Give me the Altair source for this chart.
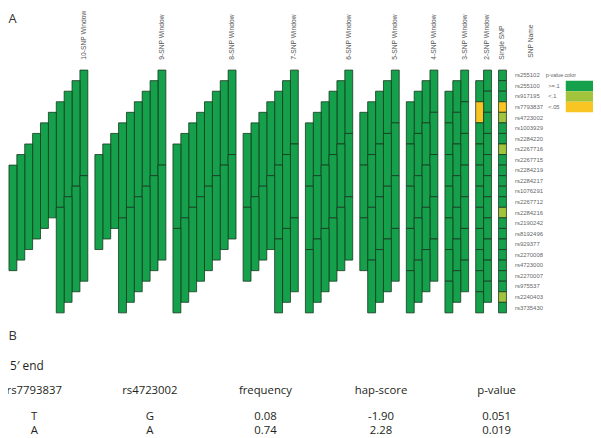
import altair as alt
import pandas as pd

# ---------------- data ----------------
snp_names = ["rs255102", "rs255100", "rs917195", "rs7793837", "rs4723002", "rs1003929",
             "rs2284220", "rs2267716", "rs2267715", "rs2284219", "rs2284217", "rs1076291",
             "rs2267712", "rs2284216", "rs2190242", "rs8192496", "rs929377", "rs2270008",
             "rs4723000", "rs2270007", "rs975537", "rs2240403", "rs3735430"]

window_sizes = [10, 9, 8, 7, 6, 5, 4, 3, 2, 1]
window_titles = ["10-SNP Window", "9-SNP Window", "8-SNP Window", "7-SNP Window",
                 "6-SNP Window", "5-SNP Window", "4-SNP Window", "3-SNP Window",
                 "2-SNP Window", "Single SNP"]

# p-value class of every sliding window, top to bottom (G: >=.1, L: <.1, Y: <.05)
win10 = "GGGGGGGGGGGGGG"
win9 = "GGGGGGGGGGGGGGG"
win8 = "GGGGGGGGGGGGGGGG"
win7 = "GGGGGGGGGGGGGGGGG"
win6 = "GGGGGGGGGGGGGGGGGG"
win5 = "GGGGGGGGGGGGGGGGGGG"
win4 = "GGGGGGGGGGGGGGGGGGGG"
win3 = "GGGGGGGGGGGGGGGGGGGGG"
win2 = "GGGYGGGGGGGGGGGGGGGGGG"
win1 = "GGGYLGGLGGGGGLGGGGGGGLG"
window_codes = [win10, win9, win8, win7, win6, win5, win4, win3, win2, win1]

legend_classes = [">=.1", "<.1", "<.05"]
legend_codes = ["G", "L", "Y"]
legend_colors = ["#15a04b", "#a2c43c", "#f9c523"]

table_columns = ["rs7793837", "rs4723002", "frequency", "hap-score", "p-value"]
hap_rs7793837 = ["T", "A"]
hap_rs4723002 = ["G", "A"]
hap_frequency = [0.08, 0.74]
hap_score = [-1.90, 2.28]
hap_pvalue = [0.051, 0.019]

# ---------------- layout constants ----------------
W, H = 593, 430
GAP = 0.9  # gap between window groups, in column units
code_to_class = dict(zip(legend_codes, legend_classes))

bar_rows, title_rows = [], []
start = 0.0
for k, title, codes in zip(window_sizes, window_titles, window_codes):
    for w, c in enumerate(codes):
        col_from_right = w % k
        slot = start + (k - 1 - col_from_right)
        bar_rows.append(dict(size=k, x0=slot, x1=slot + 1, y0=w, y1=w + k,
                             pclass=code_to_class[c]))
    title_rows.append(dict(title=title, xc=start + k - 0.5))
    start += k + GAP
bars_df = pd.DataFrame(bar_rows)
titles_df = pd.DataFrame(title_rows)
snp_df = pd.DataFrame({"name": snp_names, "yc": [i + 0.5 for i in range(len(snp_names))]})
leg_df = pd.DataFrame({"cls": legend_classes,
                       "y0": [i + 1 for i in range(3)],
                       "y1": [i + 2 for i in range(3)],
                       "yc": [i + 1.5 for i in range(3)]})

xs = alt.Scale(domain=[-0.1235, 74.08], nice=False, zero=False)
ys = alt.Scale(domain=[-5.6075, 34.579], nice=False, zero=False, reverse=True)
cs = alt.Scale(domain=legend_classes, range=legend_colors)

SMALL = "Liberation Sans"
MAIN = "Open Sans"

bars = alt.Chart(bars_df).mark_rect(stroke="#17361f", strokeWidth=0.8).encode(
    x=alt.X("x0:Q", scale=xs, axis=None), x2="x1:Q",
    y=alt.Y("y0:Q", scale=ys, axis=None), y2="y1:Q",
    color=alt.Color("pclass:N", scale=cs, legend=None),
)

win_titles = alt.Chart(titles_df).mark_text(
    angle=270, align="left", baseline="middle", fontSize=6.8, color="#555", font=SMALL
).encode(x=alt.X("xc:Q", scale=xs, axis=None), y=alt.value(49.5), text="title:N")

snp_title = alt.Chart(pd.DataFrame({"t": ["SNP Name"]})).mark_text(
    angle=270, align="left", baseline="middle", fontSize=6.8, color="#555", font=SMALL
).encode(x=alt.value(530), y=alt.value(47.5), text="t:N")

snp_text = alt.Chart(snp_df).mark_text(
    align="left", baseline="middle", fontSize=6, color="#666", font=SMALL
).encode(x=alt.value(514), y=alt.Y("yc:Q", scale=ys, axis=None), text="name:N")

leg_rect = alt.Chart(leg_df).mark_rect().encode(
    x=alt.value(565.4), x2=alt.value(600),
    y=alt.Y("y0:Q", scale=ys, axis=None), y2="y1:Q",
    color=alt.Color("cls:N", scale=cs, legend=None),
)
leg_text = alt.Chart(leg_df).mark_text(
    align="left", baseline="middle", fontSize=5.8, color="#666", font=SMALL
).encode(x=alt.value(547.6), y=alt.Y("yc:Q", scale=ys, axis=None), text="cls:N")
leg_head1 = alt.Chart(pd.DataFrame({"t": ["p-value"]})).mark_text(
    align="left", baseline="middle", fontSize=5.5, color="#666", font=SMALL
).encode(x=alt.value(545), y=alt.value(65.5), text="t:N")
leg_head2 = alt.Chart(pd.DataFrame({"t": ["color"]})).mark_text(
    align="left", baseline="middle", fontSize=5.5, color="#666", font=SMALL
).encode(x=alt.value(564), y=alt.value(65.5), text="t:N")

lab_a = alt.Chart(pd.DataFrame({"t": ["A"]})).mark_text(
    align="left", baseline="middle", fontSize=13, color="#333", font=MAIN
).encode(x=alt.value(0.5), y=alt.value(8), text="t:N")
lab_b = alt.Chart(pd.DataFrame({"t": ["B"]})).mark_text(
    align="left", baseline="middle", fontSize=13, color="#333", font=MAIN
).encode(x=alt.value(0.5), y=alt.value(329.5), text="t:N")
lab_5 = alt.Chart(pd.DataFrame({"t": ["5\u2032 end"]})).mark_text(
    align="left", baseline="middle", fontSize=12, color="#231f20", font=MAIN
).encode(x=alt.value(2), y=alt.value(360), text="t:N")

top = alt.layer(bars, win_titles, snp_title, snp_text, leg_rect, leg_text,
                leg_head1, leg_head2, lab_a, lab_b, lab_5)

# table (part B)
cells = []
for r in range(len(hap_frequency)):
    vals = [hap_rs7793837[r], hap_rs4723002[r], f"{hap_frequency[r]:.2f}",
            f"{hap_score[r]:.2f}", f"{hap_pvalue[r]:.3f}"]
    for c, v in zip(table_columns, vals):
        cells.append(dict(col=c, row=r, txt=v))
cells_df = pd.DataFrame(cells)
head_df = pd.DataFrame({"col": table_columns, "txt": table_columns})

tx = alt.Scale(type="point", domain=table_columns, range=[26.6, 495.3], padding=0)
ty = alt.Scale(type="point", domain=[0, 1], range=[411.5, 426], padding=0)

tab_head = alt.Chart(head_df).mark_text(
    align="center", baseline="middle", fontSize=11.5, color="#231f20", font=MAIN
).encode(x=alt.X("col:N", scale=tx, axis=None), y=alt.value(385), text="txt:N")
tab_cells = alt.Chart(cells_df).mark_text(
    align="center", baseline="middle", fontSize=11.5, color="#231f20", font=MAIN
).encode(x=alt.X("col:N", scale=tx, axis=None),
         y=alt.Y("row:O", scale=ty, axis=None), text="txt:N")
table = alt.layer(tab_head, tab_cells)

chart = alt.layer(top, table).resolve_scale(
    x="independent", y="independent", color="independent"
).properties(
    width=W, height=H, autosize=alt.AutoSizeParams(type="none"), padding=0,
    background="white"
).configure_view(stroke=None)

chart.save("out.html", embed_options={"renderer": "svg", "actions": False})
